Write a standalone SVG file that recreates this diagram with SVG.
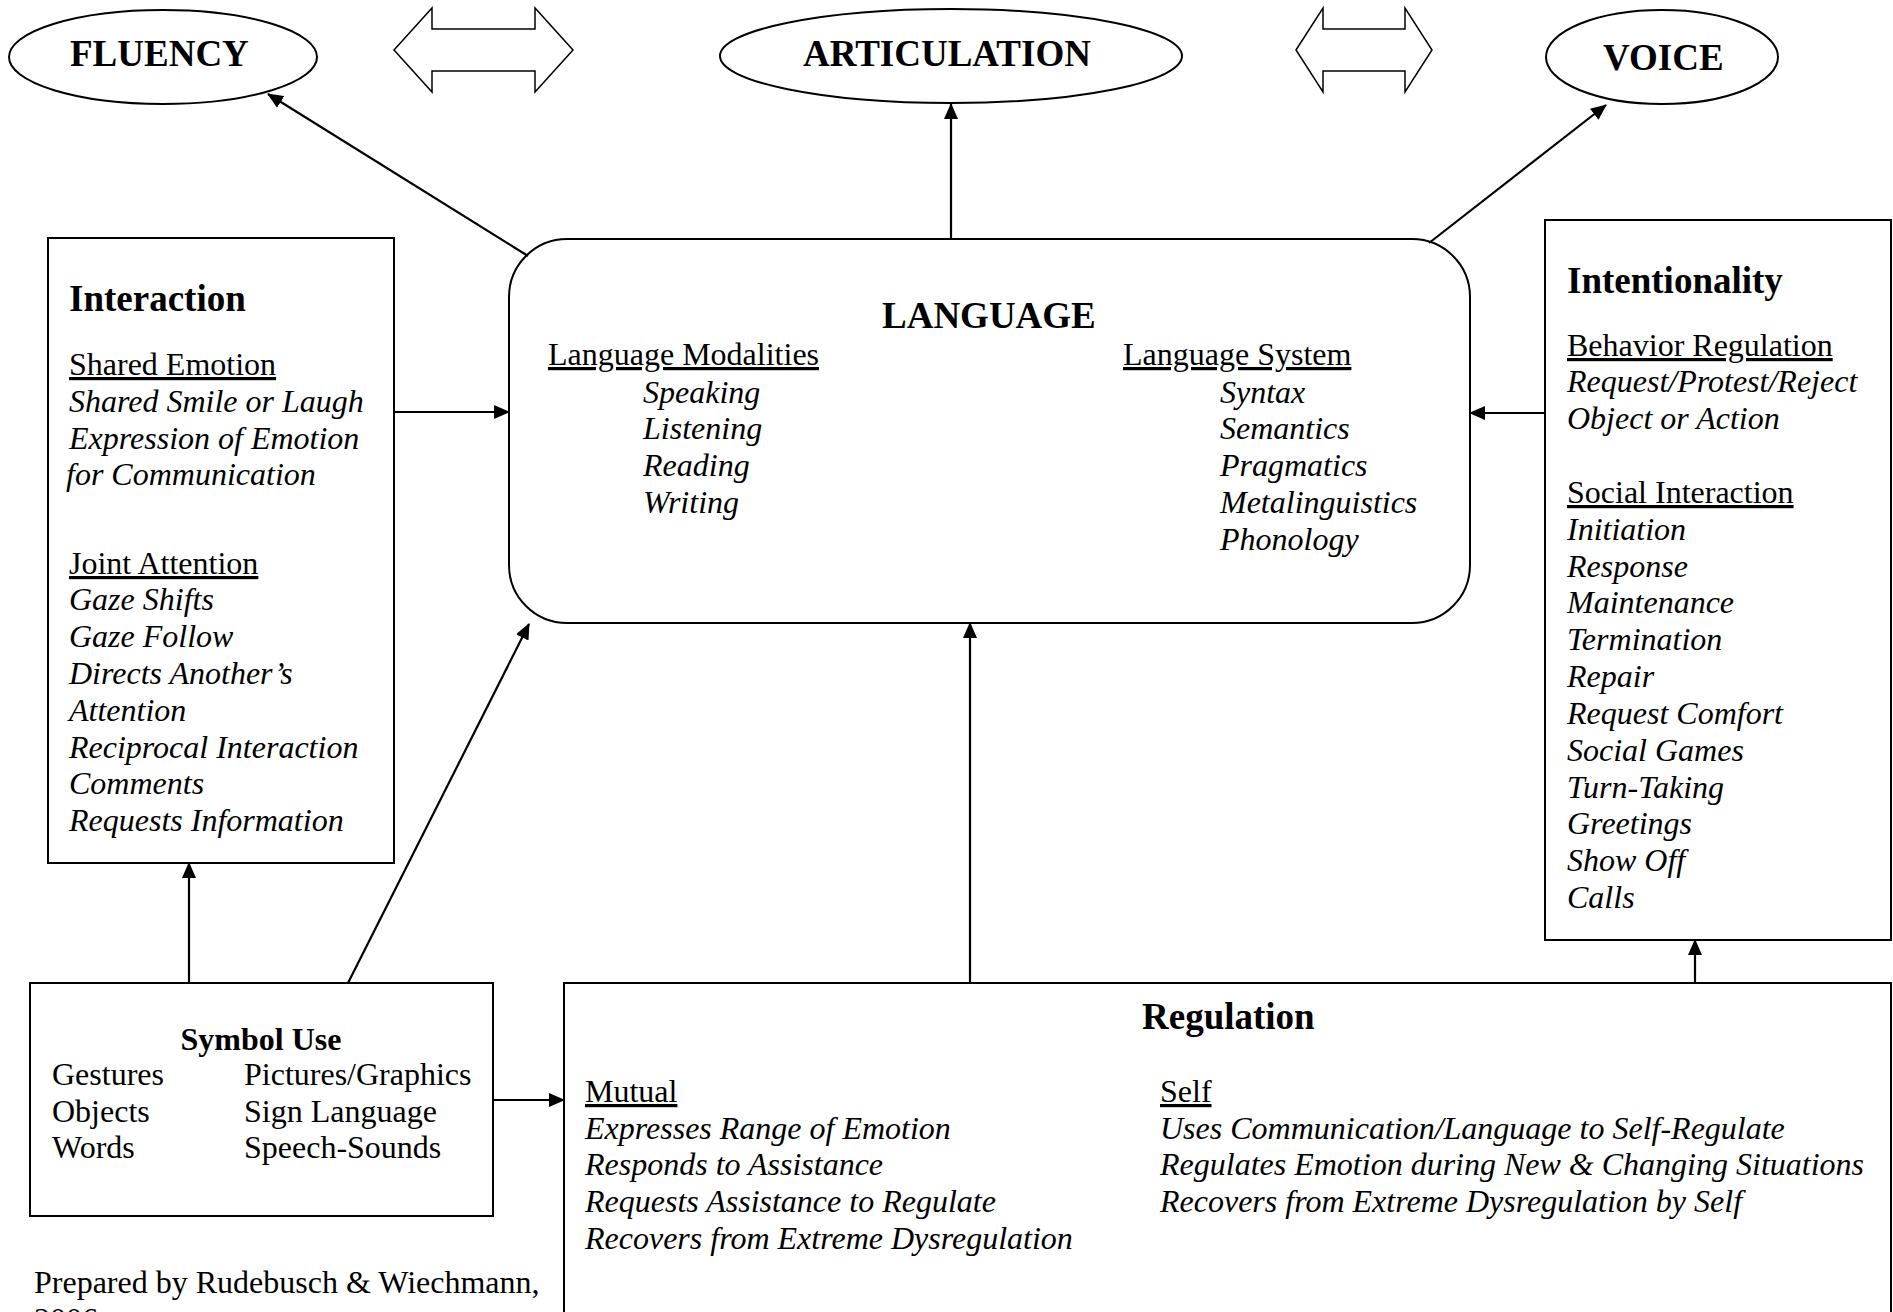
<svg xmlns="http://www.w3.org/2000/svg" width="1893" height="1312" viewBox="0 0 1893 1312">
<defs>
<marker id="ah" markerUnits="userSpaceOnUse" markerWidth="16" markerHeight="14" viewBox="0 0 16 14" refX="15" refY="7" orient="auto">
<path d="M0,0 L16,7 L0,14 z" fill="#000"/>
</marker>
</defs>
<style>
.shape{fill:#fff;stroke:#000;stroke-width:2}
.thin{fill:#fff;stroke:#000;stroke-width:1.5}
.conn{fill:none;stroke:#000;stroke-width:2.2;marker-end:url(#ah)}
text{font-family:"Liberation Serif","Times New Roman",serif;fill:#000}
.h{font-size:37px;font-weight:bold}
.b{font-size:32px}
.i{font-size:32px;font-style:italic}
.u{font-size:32px;text-decoration:underline}
.sb{font-size:32px;font-weight:bold}
</style>
<rect width="1893" height="1312" fill="#fff"/>

<g id="fluency">
<ellipse class="shape" cx="163" cy="57" rx="154" ry="47"/>
<text class="h" x="70" y="66">FLUENCY</text>
</g>
<g id="dbl-arrow-1">
<path class="thin" d="M394,50 L432,8 L432,29 L535,29 L535,8 L573,50 L535,92 L535,71 L432,71 L432,92 Z"/>
</g>
<g id="articulation">
<ellipse class="shape" cx="951" cy="56" rx="231" ry="47"/>
<text class="h" x="803" y="66">ARTICULATION</text>
</g>
<g id="dbl-arrow-2">
<path class="thin" d="M1296,50 L1323,8 L1323,29 L1405,29 L1405,8 L1432,50 L1405,92 L1405,71 L1323,71 L1323,92 Z"/>
</g>
<g id="voice">
<ellipse class="shape" cx="1662" cy="57" rx="116" ry="47"/>
<text class="h" x="1603" y="70">VOICE</text>
</g>

<g id="language">
<rect class="shape" x="509" y="239" width="961" height="384" rx="58" ry="58"/>
<text class="h" x="882" y="328">LANGUAGE</text>
<text class="u" x="548" y="365">Language Modalities</text>
<text class="i" x="643" y="403">Speaking</text>
<text class="i" x="643" y="439">Listening</text>
<text class="i" x="643" y="476">Reading</text>
<text class="i" x="643" y="513">Writing</text>
<text class="u" x="1123" y="365">Language System</text>
<text class="i" x="1220" y="403">Syntax</text>
<text class="i" x="1220" y="439">Semantics</text>
<text class="i" x="1220" y="476">Pragmatics</text>
<text class="i" x="1220" y="513">Metalinguistics</text>
<text class="i" x="1220" y="550">Phonology</text>
</g>

<g id="interaction">
<rect class="shape" x="48" y="238" width="346" height="625"/>
<text class="h" x="69" y="311">Interaction</text>
<text class="u" x="69" y="375">Shared Emotion</text>
<text class="i" x="69" y="412">Shared Smile or Laugh</text>
<text class="i" x="69" y="449">Expression of Emotion</text>
<text class="i" x="66" y="485">for Communication</text>
<text class="u" x="69" y="574">Joint Attention</text>
<text class="i" x="69" y="610">Gaze Shifts</text>
<text class="i" x="69" y="647">Gaze Follow</text>
<text class="i" x="69" y="684">Directs Another’s</text>
<text class="i" x="69" y="721">Attention</text>
<text class="i" x="69" y="758">Reciprocal Interaction</text>
<text class="i" x="69" y="794">Comments</text>
<text class="i" x="69" y="831">Requests Information</text>
</g>

<g id="intentionality">
<rect class="shape" x="1545" y="220" width="346" height="720"/>
<text class="h" x="1567" y="293">Intentionality</text>
<text class="u" x="1567" y="356">Behavior Regulation</text>
<text class="i" x="1567" y="392">Request/Protest/Reject</text>
<text class="i" x="1567" y="429">Object or Action</text>
<text class="u" x="1567" y="503">Social Interaction</text>
<text class="i" x="1567" y="540">Initiation</text>
<text class="i" x="1567" y="577">Response</text>
<text class="i" x="1567" y="613">Maintenance</text>
<text class="i" x="1567" y="650">Termination</text>
<text class="i" x="1567" y="687">Repair</text>
<text class="i" x="1567" y="724">Request Comfort</text>
<text class="i" x="1567" y="761">Social Games</text>
<text class="i" x="1567" y="798">Turn-Taking</text>
<text class="i" x="1567" y="834">Greetings</text>
<text class="i" x="1567" y="871">Show Off</text>
<text class="i" x="1567" y="908">Calls</text>
</g>

<g id="symbol-use">
<rect class="shape" x="30" y="983" width="463" height="233"/>
<text class="sb" x="261" y="1050" text-anchor="middle">Symbol Use</text>
<text class="b" x="52" y="1085">Gestures</text>
<text class="b" x="52" y="1122">Objects</text>
<text class="b" x="52" y="1158">Words</text>
<text class="b" x="244" y="1085">Pictures/Graphics</text>
<text class="b" x="244" y="1122">Sign Language</text>
<text class="b" x="244" y="1158">Speech-Sounds</text>
</g>

<g id="regulation">
<rect class="shape" x="564" y="983" width="1327" height="400"/>
<text class="h" x="1142" y="1029">Regulation</text>
<text class="u" x="585" y="1102">Mutual</text>
<text class="i" x="585" y="1139">Expresses Range of Emotion</text>
<text class="i" x="585" y="1175">Responds to Assistance</text>
<text class="i" x="585" y="1212">Requests Assistance to Regulate</text>
<text class="i" x="585" y="1249">Recovers from Extreme Dysregulation</text>
<text class="u" x="1160" y="1102">Self</text>
<text class="i" x="1160" y="1139">Uses Communication/Language to Self-Regulate</text>
<text class="i" x="1160" y="1175">Regulates Emotion during New &amp; Changing Situations</text>
<text class="i" x="1160" y="1212">Recovers from Extreme Dysregulation by Self</text>
</g>

<g id="footer">
<text class="b" x="34" y="1293">Prepared by Rudebusch &amp; Wiechmann,</text>
<text class="b" x="34" y="1330">2006</text>
</g>

<g id="connectors">
<line class="conn" x1="528" y1="256" x2="268" y2="94"/>
<line class="conn" x1="951" y1="239" x2="951" y2="104"/>
<line class="conn" x1="1429" y1="243" x2="1606" y2="105"/>
<line class="conn" x1="394" y1="412" x2="509" y2="412"/>
<line class="conn" x1="1545" y1="413" x2="1470" y2="413"/>
<line class="conn" x1="189" y1="983" x2="189" y2="863"/>
<line class="conn" x1="348" y1="983" x2="529" y2="624"/>
<line class="conn" x1="493" y1="1100" x2="564" y2="1100"/>
<line class="conn" x1="970" y1="983" x2="970" y2="623"/>
<line class="conn" x1="1695" y1="983" x2="1695" y2="940"/>
</g>
</svg>
